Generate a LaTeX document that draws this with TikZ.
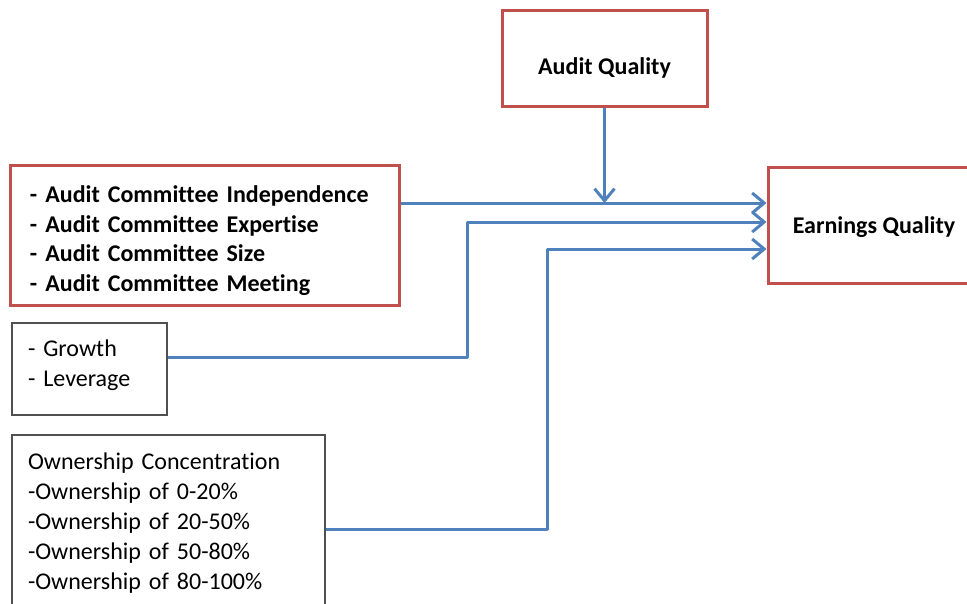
\documentclass[tikz,border=0pt]{standalone}
\usepackage{fontspec}
\setmainfont{Carlito}[Ligatures=NoCommon]
\usetikzlibrary{arrows.meta}
\definecolor{boxred}{RGB}{192,80,77}
\definecolor{linkblue}{RGB}{79,129,189}
\definecolor{boxgray}{RGB}{80,80,80}
\begin{document}
\begin{tikzpicture}[x=1pt,y=-1pt,
  redbox/.style={draw=boxred,line width=3pt,font=\bfseries\fontsize{24}{29.6}\selectfont},
  graybox/.style={draw=boxgray,line width=2pt,font=\fontsize{24}{30}\selectfont},
  link/.style={draw=linkblue,line width=3pt,line join=round,-{Straight Barb[length=12pt,width=20pt]}}]
\useasboundingbox (0,0) rectangle (967,603);
\clip (0,0) rectangle (967,603);

% boxes
\node[redbox,minimum width=205pt,minimum height=96pt,text height=32pt,text depth=0pt] (aq) at (604.5,58) {Audit Quality};
\node[redbox,minimum width=212pt,minimum height=116pt,text height=22pt,text depth=6pt] (eq) at (874,225) {Earnings Quality};
\node[redbox,align=left,text width=349pt,inner xsep=20pt,minimum height=140pt] (acbox) at (204.5,235) {\rule{0pt}{28pt}- Audit Committee Independence\\- Audit Committee Expertise\\- Audit Committee Size\\- Audit Committee Meeting};
\node[graybox,align=left,text width=123pt,inner xsep=16pt,minimum height=92pt] (growth) at (89.5,369) {- Growth\\- Leverage\rule[-12pt]{0pt}{12pt}};
\node[graybox,align=left,text width=281pt,inner xsep=16pt,minimum height=176pt] (own) at (168.5,523) {Ownership Concentration\\-Ownership of 0-20\%\\-Ownership of 20-50\%\\-Ownership of 50-80\%\\-Ownership of 80-100\%};

% connectors
\coordinate (in1) at ([yshift=22pt]eq.west);
\coordinate (in2) at ([yshift=3pt]eq.west);
\coordinate (in3) at ([yshift=-24pt]eq.west);
\coordinate (bend2) at (467,357);
\coordinate (bend3) at (547,529);
\path[link] (acbox.east |- in1) -- (in1);
\path[link] (aq.south) -- (aq.south |- in1);
\path[link] (growth.east |- bend2) -- (bend2) |- (in2);
\path[link] (own.east |- bend3) -- (bend3) |- (in3);
\end{tikzpicture}
\end{document}
